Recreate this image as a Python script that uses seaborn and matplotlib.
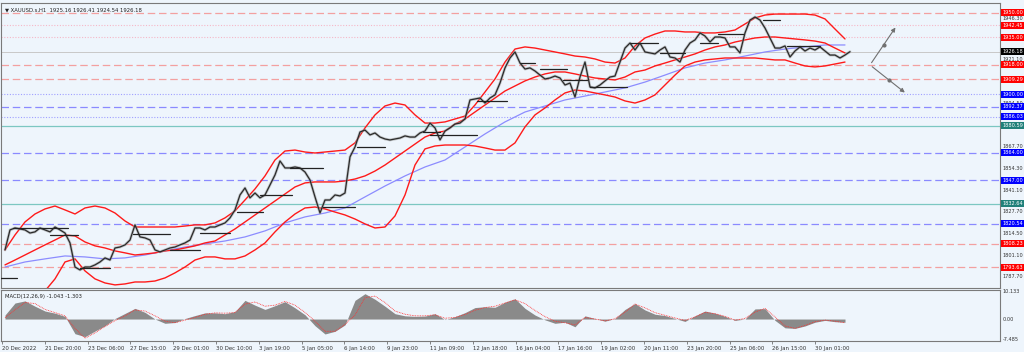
import numpy as np
import pandas as pd
import matplotlib
matplotlib.use("Agg")
import matplotlib.pyplot as plt
import seaborn as sns
from matplotlib.transforms import blended_transform_factory

# ---------------- data ----------------
title = "\u25bc XAUUSD.s,H1  1925.16 1926.41 1924.54 1926.18"
macd_title = "MACD(12,26,9) -1.043 -1.303"

x_labels = ["20 Dec 2022", "21 Dec 20:00", "23 Dec 06:00", "27 Dec 15:00", "29 Dec 01:00",
            "30 Dec 10:00", "3 Jan 19:00", "5 Jan 05:00", "6 Jan 14:00", "9 Jan 23:00",
            "11 Jan 09:00", "12 Jan 18:00", "16 Jan 04:00", "17 Jan 16:00", "19 Jan 02:00",
            "20 Jan 11:00", "23 Jan 20:00", "25 Jan 06:00", "26 Jan 15:00", "30 Jan 01:00"]

# price samples (every ~4 hourly bars)
closes = [1804.3, 1816.6, 1817.8, 1817.2, 1816.6, 1814.7, 1815.4, 1817.8, 1816.6, 1815.4,
          1818.4, 1816.6, 1814.7, 1808.6, 1793.8, 1792.0, 1793.8, 1793.8, 1795.1, 1796.9,
          1799.4, 1798.1, 1805.5, 1806.1, 1807.4, 1810.4, 1819.7, 1812.3, 1811.7, 1810.4,
          1804.3, 1803.1, 1804.3, 1805.5, 1806.1, 1807.4, 1808.6, 1810.4, 1817.8, 1817.8,
          1816.6, 1818.4, 1818.4, 1819.7, 1820.9, 1824.0, 1828.9, 1838.1, 1842.4, 1836.3,
          1839.3, 1836.3, 1838.1, 1844.2, 1850.4, 1859.0, 1854.7, 1854.7, 1855.3, 1854.7,
          1852.2, 1847.3, 1836.9, 1827.0, 1835.0, 1835.0, 1838.1, 1837.5, 1839.3, 1861.5,
          1867.6, 1876.8, 1878.0, 1875.0, 1876.2, 1873.7, 1872.5, 1871.9, 1872.5, 1873.1,
          1874.4, 1873.7, 1873.7, 1876.2, 1877.4, 1882.3, 1879.3, 1871.9, 1877.4, 1879.3,
          1881.7, 1882.3, 1884.8, 1896.5, 1897.1, 1897.7, 1894.6, 1897.7, 1899.6, 1906.9,
          1916.2, 1922.3, 1926.0, 1919.2, 1915.5, 1916.2, 1914.3, 1911.8, 1909.4, 1910.0,
          1911.2, 1910.0, 1905.7, 1906.9, 1898.3, 1910.6, 1919.8, 1904.5, 1903.9, 1905.7,
          1908.2, 1910.6, 1911.2, 1919.8, 1928.4, 1931.5, 1927.2, 1931.5, 1926.0, 1925.4,
          1924.8, 1927.2, 1929.1, 1922.9, 1922.3, 1919.8, 1927.2, 1931.5, 1933.4, 1937.7,
          1935.8, 1932.1, 1935.2, 1935.2, 1934.6, 1929.1, 1929.1, 1925.4, 1937.7, 1945.6,
          1947.5, 1945.6, 1940.7, 1934.6, 1928.4, 1928.4, 1929.7, 1922.9, 1926.6, 1929.1,
          1926.6, 1928.4, 1927.2, 1929.1, 1926.6, 1924.1, 1924.1, 1922.3, 1924.1, 1926.18]

# Bollinger bands (every 2nd sample)
bb_upper = [1804.3, 1813.5, 1821.5, 1826.4, 1829.5, 1831.3, 1828.9, 1826.4, 1830.1, 1831.3,
            1830.1, 1827.0, 1822.1, 1818.4, 1818.4, 1818.4, 1818.4, 1818.4, 1819.0, 1819.7,
            1819.7, 1820.9, 1824.0, 1828.3, 1835.0, 1841.8, 1849.8, 1859.6, 1865.1, 1865.7,
            1864.5, 1863.9, 1864.5, 1865.1, 1865.7, 1870.1, 1879.3, 1887.3, 1892.8, 1894.6,
            1893.4, 1887.3, 1882.3, 1882.3, 1883.0, 1884.8, 1886.6, 1893.4, 1901.4, 1909.4,
            1919.8, 1927.8, 1929.1, 1928.4, 1927.2, 1926.0, 1924.8, 1923.5, 1922.9, 1921.7,
            1919.8, 1919.2, 1922.3, 1929.7, 1934.6, 1937.0, 1938.9, 1938.9, 1938.3, 1938.3,
            1937.7, 1937.7, 1938.3, 1939.5, 1943.2, 1946.9, 1948.7, 1949.3, 1949.3, 1949.3,
            1949.3, 1948.7, 1946.3, 1940.1, 1934.0]
bb_middle = [1795.1, 1798.1, 1801.2, 1804.3, 1807.4, 1810.4, 1813.5, 1812.9, 1809.2, 1806.8,
             1805.5, 1803.7, 1802.5, 1801.2, 1801.8, 1802.5, 1803.7, 1804.3, 1805.5, 1806.8,
             1808.6, 1809.8, 1813.5, 1817.2, 1821.5, 1825.8, 1830.1, 1834.4, 1838.7, 1843.0,
             1845.5, 1846.1, 1846.1, 1846.1, 1846.7, 1847.9, 1849.8, 1852.8, 1856.5, 1860.8,
             1865.1, 1869.4, 1873.7, 1876.2, 1877.4, 1881.7, 1884.8, 1889.1, 1893.4, 1897.7,
             1902.0, 1905.1, 1908.2, 1910.6, 1912.5, 1913.7, 1913.7, 1912.5, 1911.2, 1910.0,
             1909.4, 1908.8, 1910.6, 1913.7, 1914.9, 1917.4, 1919.2, 1921.1, 1922.9, 1924.8,
             1927.2, 1929.1, 1930.3, 1932.1, 1933.4, 1934.6, 1935.2, 1935.2, 1934.6, 1934.0,
             1933.4, 1932.7, 1931.5, 1928.4, 1925.4]
bb_lower = [1755.1, 1761.3, 1767.4, 1773.6, 1779.1, 1786.5, 1796.9, 1798.8, 1791.4, 1786.5,
            1784.0, 1782.8, 1783.4, 1784.6, 1784.6, 1785.2, 1787.1, 1790.2, 1793.8, 1798.1,
            1800.0, 1800.0, 1798.8, 1798.8, 1800.6, 1804.3, 1808.6, 1815.4, 1821.5, 1826.4,
            1830.1, 1830.7, 1829.5, 1827.6, 1825.8, 1823.3, 1820.3, 1817.8, 1818.4, 1825.2,
            1838.1, 1856.5, 1866.4, 1868.2, 1868.8, 1868.8, 1868.8, 1868.2, 1867.0, 1865.7,
            1865.7, 1870.1, 1879.9, 1887.3, 1891.6, 1896.5, 1900.8, 1902.6, 1902.0, 1900.8,
            1899.6, 1898.3, 1895.9, 1894.6, 1896.5, 1899.6, 1905.7, 1911.8, 1917.4, 1919.8,
            1921.1, 1921.7, 1922.3, 1922.3, 1922.3, 1922.3, 1921.7, 1921.1, 1921.1, 1919.2,
            1917.4, 1916.8, 1917.4, 1918.6, 1919.8]
# moving average (every 4th sample)
ma_values = [1793.8, 1796.9, 1798.8, 1800.6, 1800.0, 1798.8, 1799.4, 1801.2, 1803.7, 1806.1,
             1808.0, 1809.8, 1812.3, 1816.0, 1820.9, 1824.6, 1827.0, 1830.1, 1836.9, 1843.6,
             1849.8, 1855.3, 1859.6, 1867.6, 1875.6, 1883.0, 1889.1, 1892.8, 1896.5, 1898.9,
             1901.4, 1903.9, 1907.5, 1911.8, 1916.2, 1919.2, 1921.1, 1923.5, 1926.0, 1927.8,
             1929.1, 1930.3, 1930.3]

# MACD (every 2nd sample)
macd_main = [1.5, 6.0, 6.8, 4.8, 3.0, 2.2, 1.0, -5.5, -6.6, -4.5,
             -2.5, 0.2, 2.1, 4.0, 2.5, 0.0, -1.6, -1.3, 0.2, 1.3,
             2.3, 2.3, 2.0, 2.8, 7.0, 5.2, 3.6, 5.0, 6.5, 4.2,
             1.6, -2.5, -5.6, -4.6, -2.2, 7.0, 9.5, 7.4, 4.8, 2.0,
             1.2, 1.0, 1.1, 2.0, -0.2, 0.9, 2.4, 4.3, 4.6, 4.4,
             6.3, 7.6, 4.0, 1.5, -0.3, -1.6, -1.2, -2.9, 1.2, 0.2,
             -0.8, 0.2, 3.6, 5.8, 3.4, 1.8, 1.3, 0.2, -0.9, 1.2,
             3.0, 2.2, 1.0, -0.5, 0.0, 3.8, 3.9, -0.5, -3.3, -3.5,
             -2.6, -1.2, -0.5, -1.0, -1.2]
macd_signal = [0.5, 3.5, 6.2, 5.8, 3.6, 2.4, 1.2, -3.5, -7.2, -5.2,
               -2.8, -0.6, 1.2, 3.4, 3.0, 1.2, -0.8, -1.4, -0.4, 0.6,
               1.8, 2.3, 2.2, 2.4, 5.6, 6.4, 4.8, 5.2, 6.6, 5.2,
               2.5, -0.8, -4.6, -4.6, -2.0, 1.5, 8.0, 8.6, 6.2, 3.0,
               1.8, 1.2, 1.2, 1.6, 0.3, 0.6, 1.7, 3.3, 4.3, 4.8,
               6.0, 7.2, 5.8, 3.2, 0.9, -0.8, -1.4, -2.2, 0.6, 0.0,
               -0.7, 0.1, 2.6, 5.6, 4.2, 2.4, 1.4, 0.4, -0.5, 0.8,
               2.5, 2.0, 1.0, -0.4, 0.2, 2.6, 4.0, 0.8, -2.6, -3.5,
               -2.4, -1.0, -0.4, -0.8, -1.4]

# horizontal levels
level_values = [1950.00, 1942.45, 1935.00, 1918.00, 1909.29, 1900.00, 1892.37, 1886.03,
                1880.59, 1864.00, 1847.00, 1832.64, 1820.54, 1808.23, 1793.63]
level_kinds = ["red_dash", "red_dot", "red_dot", "red_dash", "red_dash", "blue_dot", "blue_dash",
               "blue_dot", "teal", "blue_dash", "blue_dash", "teal", "blue_dash", "red_dash", "red_dash"]
current_price = 1926.18
price_ticks = [1946.30, 1921.10, 1894.50, 1867.70, 1854.30, 1841.10, 1827.70, 1814.50, 1801.10, 1787.70]
macd_ticks = [10.133, 0.0, -7.485]
macd_tick_labels = ["10.133", "0.00", "-7.485"]

# short black range segments (start sample, end sample, price)
seg_start = [-1, 1.6, 9, 15, 25.6, 33, 39, 46.4, 51, 57, 63.6, 70.4, 83.6, 85, 94.4,
             103, 107, 111.6, 117, 125, 131, 139, 142.6, 151.6, 156.4]
seg_end = [2.4, 12.6, 14.6, 21, 33, 39, 45, 51.6, 57.4, 63.6, 70, 76, 87, 94.4, 100.4,
           106, 112.4, 116.4, 124.4, 130.6, 136, 142.6, 147.6, 155, 163]
seg_price = [1787.1, 1817.8, 1813.5, 1793.2, 1814.1, 1804.3, 1814.7, 1827.6, 1838.1, 1854.7,
             1830.7, 1867.6, 1876.8, 1875.0, 1895.9, 1919.2, 1915.5, 1908.8, 1904.5, 1931.5,
             1925.4, 1931.5, 1937.0, 1945.6, 1929.7]

# projection arrows (sample, price)
arrow_start = (173.0, 1918.0)
arrow_up_end = (178.4, 1942.45)
arrow_down_end = (180.4, 1900.0)

# ---------------- styling ----------------
BG = "#eef5fc"
sns.set_theme(style="white", rc={"axes.facecolor": BG, "figure.facecolor": BG})
plt.rcParams["font.family"] = ["DejaVu Sans"]

fig = plt.figure(figsize=(10.24, 3.52), dpi=100)
ax = fig.add_axes([1 / 1024, 1 - 288 / 352, 999 / 1024, 285 / 352])
axm = fig.add_axes([1 / 1024, 1 - 341 / 352, 999 / 1024, 51 / 352])

n = len(closes)
xs = np.arange(n)
df = pd.DataFrame({"x": xs, "close": closes})
bb_x = np.arange(len(bb_upper)) * 2
bands = pd.DataFrame({"x": bb_x, "upper": bb_upper, "middle": bb_middle, "lower": bb_lower})
ma_df = pd.DataFrame({"x": np.arange(len(ma_values)) * 4, "ma": ma_values})
macd_x = np.arange(len(macd_main)) * 2

style_map = {
    "red_dash": dict(color="#f3a0a0", ls=(0, (6, 3)), lw=0.9),
    "red_dot": dict(color="#f5b8c8", ls=(0, (1, 1.5)), lw=0.8),
    "blue_dash": dict(color="#8a8aff", ls=(0, (6, 3)), lw=0.9),
    "blue_dot": dict(color="#a0a0ff", ls=(0, (1, 1.5)), lw=0.8),
    "teal": dict(color="#7cc7c2", ls="-", lw=0.9),
}
box_colors = {"red_dash": "#ff0000", "red_dot": "#ff0000", "blue_dash": "#0000ff",
              "blue_dot": "#0000ff", "teal": "#20807a"}

for v, k in zip(level_values, level_kinds):
    ax.axhline(v, zorder=1, **style_map[k])
ax.axhline(current_price, color="#c8c8c8", lw=0.7, zorder=1)

# bands and MA
sns.lineplot(data=ma_df, x="x", y="ma", ax=ax, color="#8c8cff", lw=0.9, zorder=2)
for col in ["upper", "middle", "lower"]:
    sns.lineplot(data=bands, x="x", y=col, ax=ax, color="#ff1a1a", lw=1.0, zorder=3)

# price
sns.lineplot(data=df, x="x", y="close", ax=ax, color="#9a9a9a", lw=2.0, alpha=0.55, zorder=4)
sns.lineplot(data=df, x="x", y="close", ax=ax, color="#2a2a2a", lw=0.9, zorder=5)

for s, e, p in zip(seg_start, seg_end, seg_price):
    ax.plot([s, e], [p, p], color="#222222", lw=0.9, zorder=6)

# arrows
for end in (arrow_up_end, arrow_down_end):
    ax.annotate("", xy=end, xytext=arrow_start,
                arrowprops=dict(arrowstyle="-|>", color="#707070", lw=0.8, mutation_scale=6))
    mid = ((arrow_start[0] + end[0]) / 2, (arrow_start[1] + end[1]) / 2)
    ax.plot([mid[0]], [mid[1]], marker="o", ms=2, color="#707070")

xmin, xmax = -0.8, 199.0
ax.set_xlim(xmin, xmax)
ax.set_ylim(1780.9, 1956.1)
ax.set_xlabel("")
ax.set_ylabel("")
ax.set_xticks([])
ax.set_yticks([])

FS = 3.6
trans = blended_transform_factory(ax.transAxes, ax.transData)
for t in price_ticks:
    ax.text(1.0025, t, f"{t:.2f}", transform=trans, fontsize=FS, color="#333333",
            va="center", ha="left", clip_on=False)
for v, k in zip(level_values, level_kinds):
    ax.text(1.0025, v, f"{v:.2f}", transform=trans, fontsize=FS, color="white",
            va="center", ha="left", clip_on=False,
            bbox=dict(boxstyle="square,pad=0.2", fc=box_colors[k], ec="none"))
ax.text(1.0025, current_price, f"{current_price:.2f}", transform=trans, fontsize=FS, color="white",
        va="center", ha="left", clip_on=False,
        bbox=dict(boxstyle="square,pad=0.2", fc="#000000", ec="none"))
ax.text(0.004, 0.985, title, transform=ax.transAxes, fontsize=3.8, color="#222222",
        va="top", ha="left")

# MACD panel
axm.fill_between(macd_x, 0, macd_main, color="#8a8a8a", lw=0, zorder=2)
sns.lineplot(x=macd_x, y=macd_signal, ax=axm, color="#ff3030", lw=0.6,
             linestyle=(0, (1, 1)), zorder=3)
axm.set_xlim(xmin, xmax)
axm.set_ylim(-8.23, 10.88)
axm.set_yticks([])
axm.set_xlabel("")
axm.set_ylabel("")
transm = blended_transform_factory(axm.transAxes, axm.transData)
for v, lab in zip(macd_ticks, macd_tick_labels):
    axm.text(1.0025, v, lab, transform=transm, fontsize=FS, color="#333333",
             va="center", ha="left", clip_on=False)
axm.text(0.004, 0.93, macd_title, transform=axm.transAxes, fontsize=3.8, color="#222222",
         va="top", ha="left")

tick_pos = np.arange(len(x_labels)) * 8.56 - 0.6
axm.set_xticks(tick_pos)
axm.set_xticklabels(x_labels, fontsize=3.9, color="#333333", ha="left")
axm.tick_params(axis="x", length=2, width=0.5, pad=1.5, bottom=True, color="#555555")

for a in (ax, axm):
    for sp in a.spines.values():
        sp.set_color("#7a7a7a")
        sp.set_linewidth(0.8)

fig.savefig("out.png", dpi=100, facecolor=BG)
